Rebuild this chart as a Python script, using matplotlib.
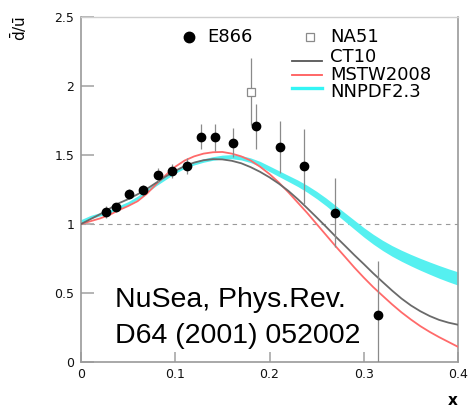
import matplotlib
matplotlib.use("Agg")
import matplotlib.pyplot as plt
from matplotlib.lines import Line2D

# E866 (NuSea) measured ratio dbar/ubar
e866_x = [0.026, 0.037, 0.051, 0.066, 0.082, 0.097, 0.112, 0.127,
          0.142, 0.161, 0.186, 0.211, 0.237, 0.269, 0.315]
e866_y = [1.085, 1.12, 1.217, 1.246, 1.357, 1.386, 1.42, 1.633,
          1.628, 1.589, 1.71, 1.56, 1.418, 1.082, 0.34]
e866_err = [0.045, 0.03, 0.035, 0.04, 0.05, 0.05, 0.06, 0.09,
            0.10, 0.106, 0.163, 0.19, 0.27, 0.25, 0.39]

# NA51 point
na51_x = [0.18]
na51_y = [1.96]
na51_err = [0.24]

# PDF predictions on a common x grid (step 0.01)
x_grid = [0.00, 0.01, 0.02, 0.03, 0.04, 0.05, 0.06, 0.07, 0.08, 0.09,
          0.10, 0.11, 0.12, 0.13, 0.14, 0.15, 0.16, 0.17, 0.18, 0.19,
          0.20, 0.21, 0.22, 0.23, 0.24, 0.25, 0.26, 0.27, 0.28, 0.29,
          0.30, 0.31, 0.32, 0.33, 0.34, 0.35, 0.36, 0.37, 0.38, 0.39, 0.40]
ct10 = [1.00, 1.035, 1.07, 1.11, 1.15, 1.18, 1.215, 1.255, 1.30, 1.345,
        1.385, 1.42, 1.445, 1.462, 1.47, 1.468, 1.458, 1.44, 1.412, 1.378,
        1.338, 1.292, 1.24, 1.18, 1.115, 1.048, 0.98, 0.91, 0.843, 0.775,
        0.71, 0.643, 0.58, 0.518, 0.46, 0.41, 0.368, 0.333, 0.305, 0.285, 0.27]
mstw2008 = [1.00, 1.02, 1.04, 1.065, 1.10, 1.13, 1.165, 1.22, 1.29, 1.355,
            1.415, 1.46, 1.49, 1.51, 1.52, 1.522, 1.51, 1.49, 1.46, 1.415,
            1.362, 1.30, 1.23, 1.155, 1.08, 1.00, 0.92, 0.84, 0.763, 0.685,
            0.612, 0.543, 0.48, 0.418, 0.36, 0.308, 0.26, 0.218, 0.18, 0.145, 0.11]
nnpdf23 = [1.02, 1.05, 1.07, 1.09, 1.12, 1.15, 1.19, 1.24, 1.29, 1.335,
           1.38, 1.415, 1.44, 1.46, 1.475, 1.485, 1.488, 1.48, 1.462, 1.435,
           1.40, 1.365, 1.33, 1.295, 1.255, 1.21, 1.16, 1.105, 1.05, 0.995,
           0.94, 0.89, 0.845, 0.805, 0.77, 0.738, 0.708, 0.68, 0.653, 0.628, 0.605]
nnpdf23_unc = [0.012, 0.012, 0.012, 0.012, 0.012, 0.012, 0.012, 0.012, 0.012,
               0.012, 0.012, 0.012, 0.012, 0.0125, 0.013, 0.014, 0.015, 0.016,
               0.017, 0.0185, 0.020, 0.021, 0.022, 0.0235, 0.025, 0.0265,
               0.028, 0.0295, 0.031, 0.0325, 0.034, 0.0355, 0.037, 0.0385,
               0.040, 0.0415, 0.043, 0.0445, 0.046, 0.047, 0.048]

x_ticks = [0, 0.1, 0.2, 0.3, 0.4]
x_ticklabels = ["0", "0.1", "0.2", "0.3", "0.4"]
y_ticks = [0, 0.5, 1, 1.5, 2, 2.5]
y_ticklabels = ["0", "0.5", "1", "1.5", "2", "2.5"]

plt.rcParams["font.family"] = ["DejaVu Sans"]
plt.rcParams["mathtext.fontset"] = "dejavusans"

W, H = 470, 409
fig = plt.figure(figsize=(W / 100, H / 100), dpi=100)
ax = fig.add_axes([81 / W, 1 - 362 / H, 377 / W, 345 / H])

ax.set_xlim(0, 0.4)
ax.set_ylim(0, 2.5)

# reference line at unity
ax.axhline(1.0, color="#9a9a9a", lw=0.8, dashes=(4, 4), zorder=1)

# theory curves
lo = [c - u for c, u in zip(nnpdf23, nnpdf23_unc)]
hi = [c + u for c, u in zip(nnpdf23, nnpdf23_unc)]
ax.fill_between(x_grid, lo, hi, color="#55f0f0", lw=0, zorder=2)
ax.plot(x_grid, mstw2008, color="#ff6a6a", lw=1.3, zorder=3)
ax.plot(x_grid, ct10, color="#6a6a6a", lw=1.3, zorder=3)

# data
ax.errorbar(na51_x, na51_y, yerr=na51_err, fmt="s", ms=5.5, mfc="white",
            mec="#8a8a8a", mew=0.9, ecolor="#8a8a8a", elinewidth=0.9,
            capsize=0, zorder=4)
ax.errorbar(e866_x, e866_y, yerr=e866_err, fmt="o", ms=6, color="black",
            ecolor="#8a8a8a", elinewidth=0.9, capsize=0, zorder=5)

# axes styling
for side in ["left", "bottom", "right"]:
    ax.spines[side].set_color("#9a9a9a")
    ax.spines[side].set_linewidth(1.2)
ax.spines["top"].set_color("#cfcfcf")
ax.spines["top"].set_linewidth(1.0)

ax.set_xticks(x_ticks)
ax.set_xticklabels(x_ticklabels)
ax.set_yticks(y_ticks)
ax.set_yticklabels(y_ticklabels)
ax.tick_params(axis="y", direction="in", length=9, width=1.2, color="#a8a8a8",
               pad=5, labelsize=9, labelcolor="#111111")
ax.tick_params(axis="x", direction="in", length=7, width=1.2, color="#a8a8a8",
               pad=4, labelsize=9, labelcolor="#111111")

# axis titles
ax.text(1.0, -0.113, "x", transform=ax.transAxes, ha="right", va="center",
        fontsize=11, fontweight="bold")
fig.text(19 / W, 1 - 28 / H, r"$\mathrm{\bar{d}/\bar{u}}$", rotation=90,
         ha="center", va="center", fontsize=11)

# legend
def ax_xy(px, py):
    return (px - 81) / 377, (362 - py) / 345

tr = ax.transAxes
mx, my = ax_xy(189, 37)
ax.add_line(Line2D([mx], [my], marker="o", ms=7.5, color="black", ls="none",
                   transform=tr, clip_on=False))
tx, ty = ax_xy(207, 37)
ax.text(tx, ty, "E866", transform=tr, fontsize=13, va="center", ha="left")
mx, my = ax_xy(310, 37)
ax.add_line(Line2D([mx], [my], marker="s", ms=5.5, mfc="white", mec="#8a8a8a",
                   mew=0.9, ls="none", transform=tr, clip_on=False))
tx, ty = ax_xy(330, 37)
ax.text(tx, ty, "NA51", transform=tr, fontsize=13, va="center", ha="left")

entries = [("CT10", "#555555", 1.3, 61),
           ("MSTW2008", "#ff5a5a", 1.3, 74.5),
           ("NNPDF2.3", "#33f5f5", 2.4, 88)]
for label, col, lw, py in entries:
    x0, y0 = ax_xy(292, py)
    x1, _ = ax_xy(322, py)
    ax.add_line(Line2D([x0, x1], [y0, y0], color=col, lw=lw, transform=tr))
tx, ty = ax_xy(330, 74.5)
ax.text(tx, ty, "\n".join(e[0] for e in entries), transform=tr, fontsize=13,
        va="center", ha="left", linespacing=0.98)

# citation
for line, py in [("NuSea, Phys.Rev.", 307), ("D64 (2001) 052002", 343)]:
    tx, ty = ax_xy(115, py)
    ax.text(tx, ty, line, transform=tr, fontsize=20.5, va="baseline", ha="left",
            family=["Liberation Sans", "DejaVu Sans"], zorder=6)

fig.savefig("out.png", dpi=100)
